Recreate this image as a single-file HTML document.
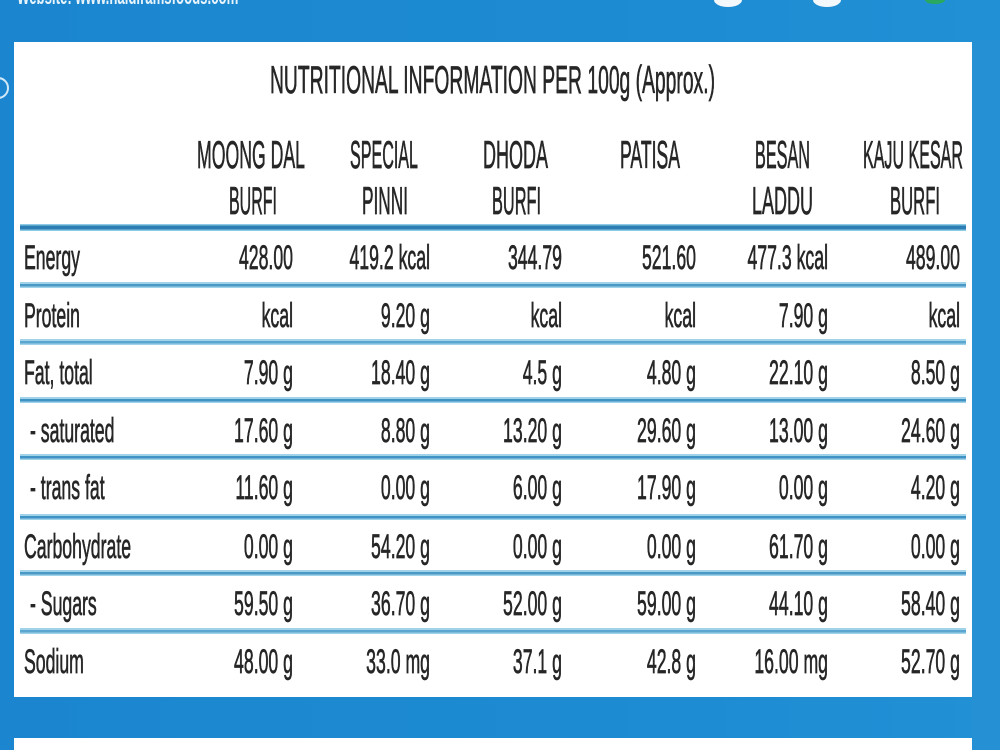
<!DOCTYPE html>
<html><head><meta charset="utf-8"><style>
html,body{margin:0;padding:0;background:#1d8bd1;}
svg{display:block;}
text{font-family:"Liberation Sans",sans-serif;fill:#262626;stroke:#262626;stroke-width:0.7px;}
</style></head><body>
<svg width="1000" height="750" viewBox="0 0 1000 750" xmlns="http://www.w3.org/2000/svg">
<defs>
<linearGradient id="bg" x1="0" y1="0" x2="1" y2="0">
<stop offset="0" stop-color="#1b86cf"/><stop offset="0.6" stop-color="#1d8bd2"/><stop offset="1" stop-color="#2290d4"/>
</linearGradient>
</defs>
<rect x="0" y="0" width="1000" height="750" fill="url(#bg)"/>
<!-- top cut-off white text -->
<text x="17" y="4" font-size="22" font-weight="bold" style="fill:#e8f4fc;stroke:none" transform="translate(17,0) scale(0.6,1) translate(-17,0)">Website: www.haldiramsfoods.com</text>
<ellipse cx="728" cy="0" rx="14" ry="7" fill="#f2f8fc"/>
<ellipse cx="827" cy="0" rx="14" ry="7" fill="#f2f8fc"/>
<ellipse cx="935" cy="0" rx="10" ry="4" fill="#2aa860"/>
<circle cx="-2" cy="88" r="10" fill="none" stroke="#cfe8f8" stroke-width="2"/>
<!-- main white panel -->
<rect x="14" y="42" width="958" height="655" fill="#ffffff"/>
<rect x="972" y="40" width="28" height="710" fill="#2590d3"/>
<!-- bottom panel -->
<rect x="14" y="738" width="958" height="12" fill="#ffffff"/>

<!-- title -->
<text x="270" y="93" font-size="39" textLength="445" lengthAdjust="spacingAndGlyphs">NUTRITIONAL INFORMATION PER 100g (Approx.)</text>

<!-- column headers -->
<g font-size="39">
<text x="197" y="168" textLength="108" lengthAdjust="spacingAndGlyphs">MOONG DAL</text>
<text x="229" y="214" textLength="48" lengthAdjust="spacingAndGlyphs">BURFI</text>
<text x="350" y="168" textLength="68" lengthAdjust="spacingAndGlyphs">SPECIAL</text>
<text x="362" y="214" textLength="46" lengthAdjust="spacingAndGlyphs">PINNI</text>
<text x="483" y="168" textLength="65" lengthAdjust="spacingAndGlyphs">DHODA</text>
<text x="492" y="214" textLength="49" lengthAdjust="spacingAndGlyphs">BURFI</text>
<text x="620" y="168" textLength="60" lengthAdjust="spacingAndGlyphs">PATISA</text>
<text x="755" y="168" textLength="55" lengthAdjust="spacingAndGlyphs">BESAN</text>
<text x="752" y="214" textLength="61" lengthAdjust="spacingAndGlyphs">LADDU</text>
<text x="863" y="168" textLength="100" lengthAdjust="spacingAndGlyphs">KAJU KESAR</text>
<text x="890" y="214" textLength="50" lengthAdjust="spacingAndGlyphs">BURFI</text>
</g>

<!-- header line -->
<rect x="20" y="224" width="946" height="7" fill="#8ccbe6"/>
<rect x="20" y="225.5" width="946" height="4" fill="#2c7db3"/>

<!-- row lines -->
<g>
<rect x="20" y="282" width="946" height="6" fill="#a0d3ea"/><rect x="20" y="284" width="946" height="2.5" fill="#4b98c6"/>
<rect x="20" y="339" width="946" height="6" fill="#a0d3ea"/><rect x="20" y="341" width="946" height="2.5" fill="#5aa6cf"/>
<rect x="20" y="397" width="946" height="6" fill="#a0d3ea"/><rect x="20" y="399" width="946" height="2.5" fill="#3f92c4"/>
<rect x="20" y="454" width="946" height="6" fill="#a0d3ea"/><rect x="20" y="456" width="946" height="2.5" fill="#3f92c4"/>
<rect x="20" y="514" width="946" height="6" fill="#a0d3ea"/><rect x="20" y="516" width="946" height="2.5" fill="#3f92c4"/>
<rect x="20" y="570" width="946" height="6" fill="#a0d3ea"/><rect x="20" y="572" width="946" height="2.5" fill="#4b98c6"/>
<rect x="20" y="628" width="946" height="6" fill="#a0d3ea"/><rect x="20" y="630" width="946" height="2.5" fill="#5aa6cf"/>
</g>

<!-- row labels -->
<g font-size="34">
<text transform="translate(24,269) scale(0.52,1)">Energy</text>
<text transform="translate(24,327) scale(0.52,1)">Protein</text>
<text transform="translate(24,384) scale(0.52,1)">Fat, total</text>
<text transform="translate(30,442) scale(0.52,1)">- saturated</text>
<text transform="translate(30,499) scale(0.52,1)">- trans fat</text>
<text transform="translate(24,558) scale(0.52,1)">Carbohydrate</text>
<text transform="translate(30,615) scale(0.52,1)">- Sugars</text>
<text transform="translate(24,673) scale(0.52,1)">Sodium</text>
</g>

<!-- values -->
<g font-size="34" text-anchor="end">
<!-- Energy -->
<text transform="translate(293,269) scale(0.52,1)">428.00</text>
<text transform="translate(430,269) scale(0.52,1)">419.2 kcal</text>
<text transform="translate(562,269) scale(0.52,1)">344.79</text>
<text transform="translate(696,269) scale(0.52,1)">521.60</text>
<text transform="translate(828,269) scale(0.52,1)">477.3 kcal</text>
<text transform="translate(960,269) scale(0.52,1)">489.00</text>
<!-- Protein -->
<text transform="translate(293,327) scale(0.52,1)">kcal</text>
<text transform="translate(430,327) scale(0.52,1)">9.20 g</text>
<text transform="translate(562,327) scale(0.52,1)">kcal</text>
<text transform="translate(696,327) scale(0.52,1)">kcal</text>
<text transform="translate(828,327) scale(0.52,1)">7.90 g</text>
<text transform="translate(960,327) scale(0.52,1)">kcal</text>
<!-- Fat -->
<text transform="translate(293,384) scale(0.52,1)">7.90 g</text>
<text transform="translate(430,384) scale(0.52,1)">18.40 g</text>
<text transform="translate(562,384) scale(0.52,1)">4.5 g</text>
<text transform="translate(696,384) scale(0.52,1)">4.80 g</text>
<text transform="translate(828,384) scale(0.52,1)">22.10 g</text>
<text transform="translate(960,384) scale(0.52,1)">8.50 g</text>
<!-- saturated -->
<text transform="translate(293,442) scale(0.52,1)">17.60 g</text>
<text transform="translate(430,442) scale(0.52,1)">8.80 g</text>
<text transform="translate(562,442) scale(0.52,1)">13.20 g</text>
<text transform="translate(696,442) scale(0.52,1)">29.60 g</text>
<text transform="translate(828,442) scale(0.52,1)">13.00 g</text>
<text transform="translate(960,442) scale(0.52,1)">24.60 g</text>
<!-- trans fat -->
<text transform="translate(293,499) scale(0.52,1)">11.60 g</text>
<text transform="translate(430,499) scale(0.52,1)">0.00 g</text>
<text transform="translate(562,499) scale(0.52,1)">6.00 g</text>
<text transform="translate(696,499) scale(0.52,1)">17.90 g</text>
<text transform="translate(828,499) scale(0.52,1)">0.00 g</text>
<text transform="translate(960,499) scale(0.52,1)">4.20 g</text>
<!-- Carbohydrate -->
<text transform="translate(293,558) scale(0.52,1)">0.00 g</text>
<text transform="translate(430,558) scale(0.52,1)">54.20 g</text>
<text transform="translate(562,558) scale(0.52,1)">0.00 g</text>
<text transform="translate(696,558) scale(0.52,1)">0.00 g</text>
<text transform="translate(828,558) scale(0.52,1)">61.70 g</text>
<text transform="translate(960,558) scale(0.52,1)">0.00 g</text>
<!-- Sugars -->
<text transform="translate(293,615) scale(0.52,1)">59.50 g</text>
<text transform="translate(430,615) scale(0.52,1)">36.70 g</text>
<text transform="translate(562,615) scale(0.52,1)">52.00 g</text>
<text transform="translate(696,615) scale(0.52,1)">59.00 g</text>
<text transform="translate(828,615) scale(0.52,1)">44.10 g</text>
<text transform="translate(960,615) scale(0.52,1)">58.40 g</text>
<!-- Sodium -->
<text transform="translate(293,673) scale(0.52,1)">48.00 g</text>
<text transform="translate(430,673) scale(0.52,1)">33.0 mg</text>
<text transform="translate(562,673) scale(0.52,1)">37.1 g</text>
<text transform="translate(696,673) scale(0.52,1)">42.8 g</text>
<text transform="translate(828,673) scale(0.52,1)">16.00 mg</text>
<text transform="translate(960,673) scale(0.52,1)">52.70 g</text>
</g>
</svg>
</body></html>
